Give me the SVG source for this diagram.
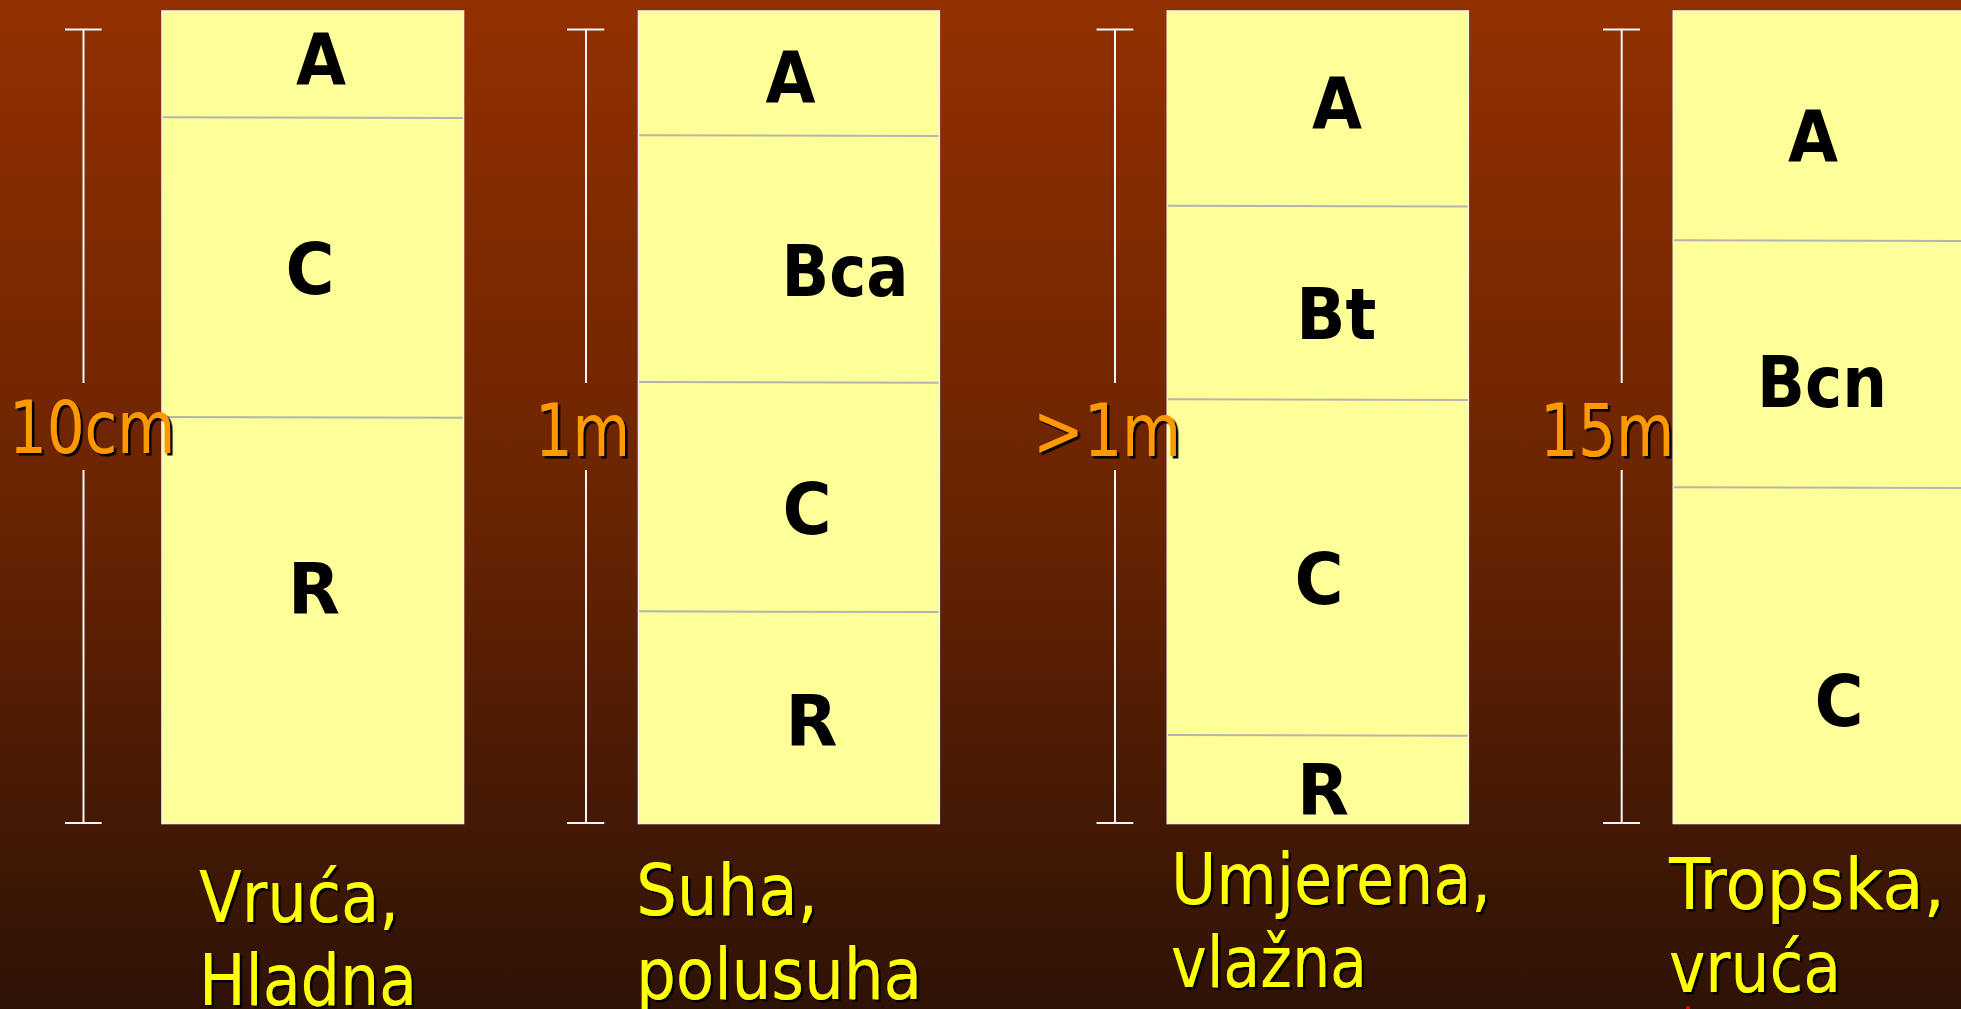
<svg xmlns="http://www.w3.org/2000/svg" width="1961" height="1009" viewBox="0 0 1961 1009">
  <defs>
    <linearGradient id="bg" x1="0" y1="0" x2="0" y2="1">
      <stop offset="0" stop-color="#933000"/>
      <stop offset="0.5" stop-color="#6a2402"/>
      <stop offset="1" stop-color="#2e1206"/>
    </linearGradient>
    <filter id="shadow" x="-10%" y="-10%" width="130%" height="130%">
      <feDropShadow dx="2.5" dy="2.5" stdDeviation="0" flood-color="#000" flood-opacity="1"/>
    </filter>
  </defs>
  <style>
    .profile { fill: #FFFF99; stroke: #f4f4ec; stroke-width: 1.6; }
    .hz { stroke: #b4b4b0; stroke-width: 2; fill: none; }
    .ruler { stroke: #f6f6f6; stroke-width: 2; fill: none; }
    .hl { font-family: 'DejaVu Sans Condensed', 'DejaVu Sans', sans-serif; font-stretch: condensed; font-weight: bold; font-size: 71px; fill: #000; text-anchor: middle; }
    .depth { font-family: 'DejaVu Sans Condensed', 'DejaVu Sans', sans-serif; font-stretch: condensed; font-size: 73px; fill: #FF9900; filter: url(#shadow); }
    .clim { font-family: 'DejaVu Sans Condensed', 'DejaVu Sans', sans-serif; font-stretch: condensed; font-size: 72px; fill: #FFFF00; filter: url(#shadow); }
  </style>

  <rect x="0" y="0" width="1961" height="1009" fill="url(#bg)"/>

  <g id="rulers">
    <path class="ruler" d="M65 29.5H101.7M83.5 29.5V383M83.5 470V823M65 823H101.7"/>
    <path class="ruler" d="M567 29.5H604.3M586 29.5V383M586 470V823M567 823H604.3"/>
    <path class="ruler" d="M1096.5 29.5H1133.3M1115 29.5V383M1115 470V823M1096.5 823H1133.3"/>
    <path class="ruler" d="M1603 29.5H1640M1621.7 29.5V383M1621.7 470V823M1603 823H1640"/>
  </g>

  <g id="profile-1">
    <rect class="profile" x="162" y="11" width="301.5" height="812.5"/>
    <line class="hz" x1="162.8" y1="117.2" x2="462.7" y2="118"/>
    <line class="hz" x1="162.8" y1="417" x2="462.7" y2="417.8"/>
    <text class="hl" x="321" y="84" textLength="50" lengthAdjust="spacingAndGlyphs">A</text>
    <text class="hl" x="310" y="294" textLength="49" lengthAdjust="spacingAndGlyphs">C</text>
    <text class="hl" x="314" y="614" textLength="52" lengthAdjust="spacingAndGlyphs">R</text>
    <text class="depth" x="9" y="453" textLength="166" lengthAdjust="spacingAndGlyphs">10cm</text>
    <text class="clim" x="199" y="922" textLength="200" lengthAdjust="spacingAndGlyphs">Vruća,</text>
    <text class="clim" x="199" y="1005" textLength="218" lengthAdjust="spacingAndGlyphs">Hladna</text>
  </g>

  <g id="profile-2">
    <rect class="profile" x="638.5" y="11" width="300.8" height="812.5"/>
    <line class="hz" x1="639.3" y1="135.2" x2="938.5" y2="136"/>
    <line class="hz" x1="639.3" y1="382" x2="938.5" y2="382.8"/>
    <line class="hz" x1="639.3" y1="611.3" x2="938.5" y2="612.1"/>
    <text class="hl" x="790.5" y="101.7" textLength="50" lengthAdjust="spacingAndGlyphs">A</text>
    <text class="hl" x="845" y="296" textLength="127" lengthAdjust="spacingAndGlyphs">Bca</text>
    <text class="hl" x="807" y="534" textLength="49" lengthAdjust="spacingAndGlyphs">C</text>
    <text class="hl" x="811.5" y="745.5" textLength="52" lengthAdjust="spacingAndGlyphs">R</text>
    <text class="depth" x="535" y="455.5" textLength="95" lengthAdjust="spacingAndGlyphs">1m</text>
    <text class="clim" x="636" y="914.5" textLength="182" lengthAdjust="spacingAndGlyphs">Suha,</text>
    <text class="clim" x="636" y="998.5" textLength="286" lengthAdjust="spacingAndGlyphs">polusuha</text>
  </g>

  <g id="profile-3">
    <rect class="profile" x="1167.3" y="11" width="301" height="812.5"/>
    <line class="hz" x1="1168" y1="205.8" x2="1467.5" y2="206.6"/>
    <line class="hz" x1="1168" y1="399.3" x2="1467.5" y2="400.1"/>
    <line class="hz" x1="1168" y1="735" x2="1467.5" y2="735.8"/>
    <text class="hl" x="1337" y="127.7" textLength="50" lengthAdjust="spacingAndGlyphs">A</text>
    <text class="hl" x="1336.3" y="339.3" textLength="80" lengthAdjust="spacingAndGlyphs">Bt</text>
    <text class="hl" x="1319" y="603.5" textLength="49" lengthAdjust="spacingAndGlyphs">C</text>
    <text class="hl" x="1323" y="815" textLength="52" lengthAdjust="spacingAndGlyphs">R</text>
    <text class="depth" x="1033" y="455.5" textLength="148" lengthAdjust="spacingAndGlyphs">&gt;1m</text>
    <text class="clim" x="1171" y="903.5" textLength="320" lengthAdjust="spacingAndGlyphs">Umjerena,</text>
    <text class="clim" x="1171" y="986.8" textLength="196" lengthAdjust="spacingAndGlyphs">vlažna</text>
  </g>

  <g id="profile-4">
    <rect class="profile" x="1673.3" y="11" width="320" height="812.5"/>
    <line class="hz" x1="1674" y1="240.2" x2="1961" y2="241"/>
    <line class="hz" x1="1674" y1="487.2" x2="1961" y2="488"/>
    <text class="hl" x="1813" y="161" textLength="50" lengthAdjust="spacingAndGlyphs">A</text>
    <text class="hl" x="1822" y="407.3" textLength="130" lengthAdjust="spacingAndGlyphs">Bcn</text>
    <text class="hl" x="1839" y="726" textLength="49" lengthAdjust="spacingAndGlyphs">C</text>
    <text class="depth" x="1540" y="455.5" textLength="134" lengthAdjust="spacingAndGlyphs">15m</text>
    <text class="clim" x="1669" y="909" textLength="276" lengthAdjust="spacingAndGlyphs">Tropska,</text>
    <text class="clim" x="1669" y="991.7" textLength="172" lengthAdjust="spacingAndGlyphs">vruća</text>
    <ellipse cx="1688" cy="1008" rx="2" ry="2.5" fill="#e00000"/>
  </g>
</svg>
